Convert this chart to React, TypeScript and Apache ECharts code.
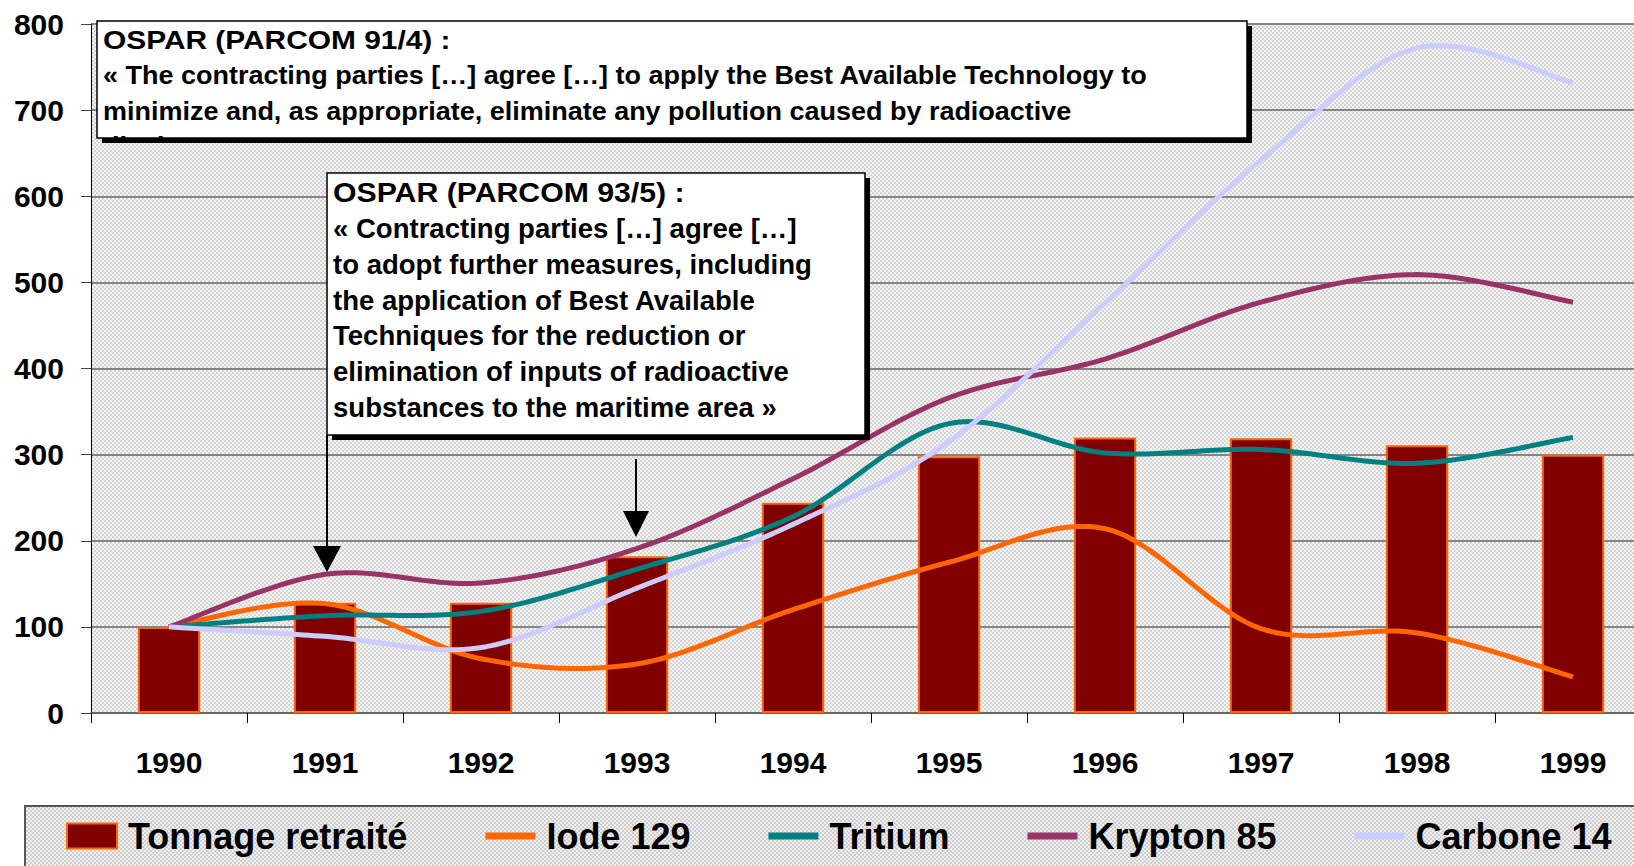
import React, { useEffect, useRef } from 'react';
import * as echarts from 'echarts';

const years = ['1990', '1991', '1992', '1993', '1994', '1995', '1996', '1997', '1998', '1999'];
const tonnage = [100, 128, 128, 182, 244, 298, 320, 319, 311, 300];
const iode = [100, 127, 63, 57, 120, 175, 214, 98, 93, 42];
const tritium = [100, 113, 118, 167, 228, 336, 302, 306, 290, 320];
const krypton = [100, 161, 151, 191, 272, 366, 411, 477, 509, 477];
const carbone = [100, 89, 76, 145, 219, 315, 476, 642, 772, 732];
const yMin = 0;
const yMax = 800;
const yStep = 100;

const note1Lines = [
  'OSPAR (PARCOM 91/4) :',
  '« The contracting parties […] agree […] to apply the Best Available Technology to',
  'minimize and, as appropriate, eliminate any pollution caused by radioactive',
  'discharges »',
];
const note2Lines = [
  'OSPAR (PARCOM 93/5) :',
  '« Contracting parties […] agree […]',
  'to adopt further measures, including',
  'the application of Best Available',
  'Techniques for the reduction or',
  'elimination of inputs of radioactive',
  'substances to the maritime area »',
];

const FONT = '"Liberation Sans", Arial, sans-serif';
const LINE_ICON = 'path://M0,0L50,0M0,9L50,9L50,16L0,16ZM0,25L50,25';

function makePattern(bg: string, dot: string): any {
  try {
    const c = document.createElement('canvas');
    c.width = 4;
    c.height = 4;
    const ctx = c.getContext('2d');
    if (!ctx) return bg;
    ctx.fillStyle = bg;
    ctx.fillRect(0, 0, 4, 4);
    ctx.fillStyle = dot;
    ctx.fillRect(0, 0, 2, 2);
    ctx.fillRect(2, 2, 2, 2);
    return { image: c, repeat: 'repeat' };
  } catch (e) {
    return bg;
  }
}

// Excel-like smoothed line (Catmull-Rom through the data points), drawn via the axes' scales
function smoothSeries(name: string, values: number[], color: string) {
  return {
    name,
    type: 'custom',
    z: 3,
    data: values.map((v, i) => [i, v]),
    encode: { x: 0, y: 1 },
    itemStyle: { color },
    renderItem: (params: any, api: any) => {
      if (params.dataIndexInside !== 0) return null;
      const n = params.dataInsideLength;
      const pts: number[][] = [];
      for (let j = 0; j < n; j++) {
        pts.push(api.coord([api.value(0, j), api.value(1, j)]));
      }
      const out: number[][] = [];
      const steps = 30;
      for (let k = 0; k < n - 1; k++) {
        const p0 = pts[Math.max(k - 1, 0)];
        const p1 = pts[k];
        const p2 = pts[k + 1];
        const p3 = pts[Math.min(k + 2, n - 1)];
        const c1 = [p1[0] + (p2[0] - p0[0]) / 6, p1[1] + (p2[1] - p0[1]) / 6];
        const c2 = [p2[0] - (p3[0] - p1[0]) / 6, p2[1] - (p3[1] - p1[1]) / 6];
        for (let s = k === 0 ? 0 : 1; s <= steps; s++) {
          const t = s / steps;
          const u = 1 - t;
          const a = u * u * u, b = 3 * u * u * t, c = 3 * u * t * t, d = t * t * t;
          out.push([
            a * p1[0] + b * c1[0] + c * c2[0] + d * p2[0],
            a * p1[1] + b * c1[1] + c * c2[1] + d * p2[1],
          ]);
        }
      }
      return {
        type: 'polyline',
        silent: true,
        shape: { points: out },
        style: { stroke: color, lineWidth: 5, fill: null, lineJoin: 'round', lineCap: 'butt' },
      };
    },
  };
}

export default function App() {
  const ref = useRef<HTMLDivElement>(null);
  useEffect(() => {
    if (!ref.current) return;
    const chart = echarts.init(ref.current, undefined, { renderer: 'svg' });
    const plotFill = makePattern('#f3f3f3', '#d6d6d6');
    const legendFill = makePattern('#eeeeee', '#cfcfcf');

    const graphics: any[] = [];
    graphics.push({
      type: 'rect', z: 0,
      shape: { x: 25, y: 806, width: 1640, height: 80 },
      style: { fill: legendFill, stroke: '#555', lineWidth: 2 },
    });
    // note 1
    graphics.push({
      type: 'rect', z: 100,
      shape: { x: 102, y: 26, width: 1150, height: 117 },
      style: { fill: '#000' },
    });
    graphics.push({
      type: 'rect', z: 101,
      shape: { x: 97, y: 21, width: 1150, height: 117 },
      style: { fill: '#fff', stroke: '#000', lineWidth: 1.5 },
    });
    note1Lines.forEach((t, i) => {
      graphics.push({
        type: 'text', z: 102, x: 103, y: 40 + i * 35.5, scaleX: i === 0 ? 1.15 : 1.038,
        style: { text: t, x: 0, y: 0, font: `bold 26px ${FONT}`, fill: '#000', verticalAlign: 'middle', textVerticalAlign: 'middle' },
      });
    });
    graphics.push({
      type: 'rect', z: 103,
      shape: { x: 102, y: 138.75, width: 1150, height: 4.25 },
      style: { fill: '#000' },
    });
    graphics.push({
      type: 'rect', z: 103,
      shape: { x: 96, y: 143, width: 320, height: 24 },
      style: { fill: plotFill },
    });
    // note 2
    graphics.push({
      type: 'rect', z: 100,
      shape: { x: 332, y: 178, width: 538, height: 262 },
      style: { fill: '#000' },
    });
    graphics.push({
      type: 'rect', z: 101,
      shape: { x: 327, y: 173, width: 538, height: 262 },
      style: { fill: '#fff', stroke: '#000', lineWidth: 1.5 },
    });
    note2Lines.forEach((t, i) => {
      graphics.push({
        type: 'text', z: 102, x: 333, y: 193 + i * 35.7, scaleX: i === 0 ? 1.12 : 1.02,
        style: { text: t, x: 0, y: 0, font: `bold 27px ${FONT}`, fill: '#000', verticalAlign: 'middle', textVerticalAlign: 'middle' },
      });
    });
    // arrows
    graphics.push({
      type: 'line', z: 100,
      shape: { x1: 327, y1: 435, x2: 327, y2: 550 },
      style: { stroke: '#000', lineWidth: 2 },
    });
    graphics.push({
      type: 'polygon', z: 100,
      shape: { points: [[313, 546], [341, 546], [327, 572]] },
      style: { fill: '#000' },
    });
    graphics.push({
      type: 'line', z: 100,
      shape: { x1: 636, y1: 459, x2: 636, y2: 515 },
      style: { stroke: '#000', lineWidth: 2 },
    });
    graphics.push({
      type: 'polygon', z: 100,
      shape: { points: [[623, 511], [649, 511], [636, 537]] },
      style: { fill: '#000' },
    });

    chart.setOption({
      animation: false,
      backgroundColor: '#fff',
      grid: {
        left: 91, width: 1560, top: 24, bottom: 153,
        outerBoundsMode: 'none',
        containLabel: false,
        show: true, backgroundColor: plotFill, borderWidth: 0,
      },
      legend: {
        left: 66, top: 818, padding: 0,
        itemWidth: 50, itemHeight: 25, itemGap: 78,
        textStyle: { fontSize: 36, fontWeight: 'bold', fontFamily: FONT, color: '#000', padding: [0, 0, 0, 6] },
        data: [
          { name: 'Tonnage retraité', icon: 'rect' },
          { name: 'Iode 129', icon: LINE_ICON },
          { name: 'Tritium', icon: LINE_ICON },
          { name: 'Krypton 85', icon: LINE_ICON },
          { name: 'Carbone 14', icon: LINE_ICON },
        ],
      },
      xAxis: {
        type: 'category',
        data: years,
        boundaryGap: true,
        axisLine: { lineStyle: { color: '#666', width: 2 } },
        axisTick: { show: true, length: 10, lineStyle: { color: '#000', width: 1 } },
        axisLabel: { fontSize: 30, fontWeight: 'bold', fontFamily: FONT, color: '#000', margin: 34 },
        splitLine: { show: false },
      },
      yAxis: {
        type: 'value',
        min: yMin, max: yMax, interval: yStep,
        axisLine: { show: true, lineStyle: { color: '#000', width: 1 } },
        axisTick: { show: true, length: 10, lineStyle: { color: '#444', width: 1 } },
        axisLabel: { fontSize: 30, fontWeight: 'bold', fontFamily: FONT, color: '#000', margin: 27 },
        splitLine: { show: true, lineStyle: { color: '#858585', width: 2 } },
      },
      series: [
        {
          name: 'Tonnage retraité',
          type: 'bar',
          data: tonnage,
          barWidth: '40%',
          z: 2,
          itemStyle: { color: '#800000', borderColor: '#FF6600', borderWidth: 2 },
        },
        smoothSeries('Iode 129', iode, '#FF6600'),
        smoothSeries('Tritium', tritium, '#008080'),
        smoothSeries('Krypton 85', krypton, '#993366'),
        smoothSeries('Carbone 14', carbone, '#CCCCFF'),
      ],
      graphic: graphics,
    });
    return () => chart.dispose();
  }, []);
  return <div ref={ref} style={{ position: 'fixed', left: 0, top: 0, width: 1634, height: 866 }} />;
}
